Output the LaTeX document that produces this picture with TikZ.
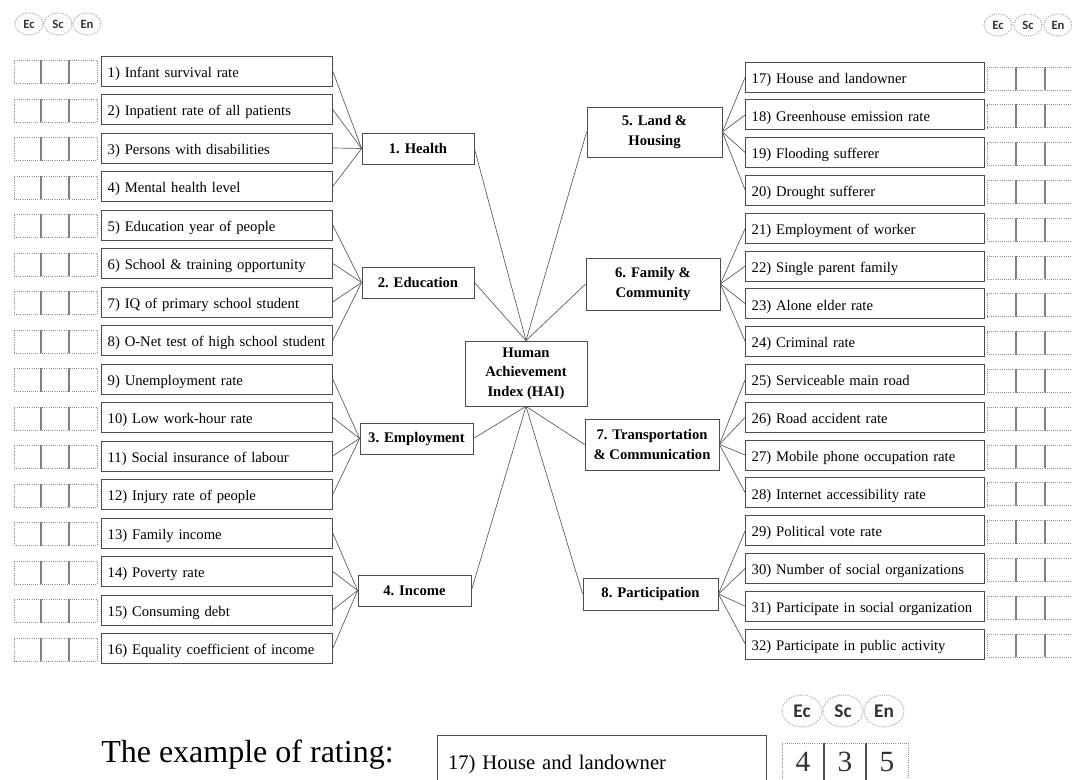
\documentclass[tikz,border=0pt]{standalone}
\usepackage{fontspec}
\setmainfont{Liberation Serif}
\newfontfamily\bubblefont{Carlito}
\usetikzlibrary{shapes.geometric}
\begin{document}
\begin{tikzpicture}[x=0.75pt,y=-0.75pt,
 itembox/.style={draw=black!70, line width=0.6pt, fill=white, minimum height=22.5pt, inner xsep=4.5pt, inner ysep=0pt, text height=10pt, text depth=0.4pt, align=left, font=\fontsize{11}{13}\selectfont},
 litem/.style={itembox, text width=164pt},
 ritem/.style={itembox, text width=170pt},
 catbox/.style={draw=black!70, line width=0.6pt, fill=white, inner sep=0pt, align=center, font=\fontsize{11}{14.5}\selectfont\bfseries},
 ratebox/.style={draw=black!45, densely dotted, line width=0.6pt, minimum height=17.25pt, inner sep=0pt},
 divider/.style={draw=black!50, line width=1.3pt},
 bubble/.style={ellipse, draw=black!40, densely dotted, line width=0.7pt, inner sep=0pt, text=black!80},
 smallbubble/.style={bubble, minimum width=21pt, minimum height=16.5pt, font=\bubblefont\bfseries\fontsize{9.5}{10}\selectfont},
 bigbubble/.style={bubble, minimum width=30pt, minimum height=24pt, font=\bubblefont\bfseries\fontsize{14.5}{15}\selectfont},
 link/.style={draw=black!65, line width=0.5pt}
]
\useasboundingbox (0,0) rectangle (1072,780);
\clip (0,0) rectangle (1072,780);

% header bubbles
\node[smallbubble] (bLEc) at (29,24) {Ec};
\node[smallbubble] (bLSc) at (58,24) {Sc};
\node[smallbubble] (bLEn) at (87,24) {En};
\node[smallbubble] (bREc) at (998,25) {Ec};
\node[smallbubble] (bRSc) at (1028,25) {Sc};
\node[smallbubble] (bREn) at (1058,25) {En};

% left items
\foreach \i/\t in {1/{Infant survival rate},2/{Inpatient rate of all patients},3/{Persons with disabilities},4/{Mental health level},5/{Education year of people},6/{School \& training opportunity},7/{IQ of primary school student},8/{O-Net test of high school student},9/{Unemployment rate},10/{Low work-hour rate},11/{Social insurance of labour},12/{Injury rate of people},13/{Family income},14/{Poverty rate},15/{Consuming debt},16/{Equality coefficient of income}}{
  \pgfmathsetmacro\yy{71+38.5*(\i-1)}
  \node[litem] (L\i) at (217,\yy) {\i) \t};
  \node[ratebox, minimum width=62.25pt] (RL\i) at (55.5,\yy+1) {};
  \draw[divider] ([xshift=20.75pt]RL\i.north west) -- ([xshift=20.75pt]RL\i.south west);
  \draw[divider] ([xshift=41.5pt]RL\i.north west) -- ([xshift=41.5pt]RL\i.south west);
}

% right items
\foreach \i/\t in {17/{House and landowner},18/{Greenhouse emission rate},19/{Flooding sufferer},20/{Drought sufferer},21/{Employment of worker},22/{Single parent family},23/{Alone elder rate},24/{Criminal rate},25/{Serviceable main road},26/{Road accident rate},27/{Mobile phone occupation rate},28/{Internet accessibility rate},29/{Political vote rate},30/{Number of social organizations},31/{Participate in social organization},32/{Participate in public activity}}{
  \pgfmathsetmacro\yy{77+37.8*(\i-17)}
  \node[ritem] (R\i) at (865,\yy) {\i) \t};
  \node[ratebox, minimum width=66pt] (RR\i) at (1031,\yy+1.5) {};
  \draw[divider] ([xshift=22pt]RR\i.north west) -- ([xshift=22pt]RR\i.south west);
  \draw[divider] ([xshift=44pt]RR\i.north west) -- ([xshift=44pt]RR\i.south west);
}

% categories
\node[catbox, minimum width=84pt, minimum height=23.25pt] (Health) at (418,148.5) {1. Health};
\node[catbox, minimum width=84pt, minimum height=23.25pt] (Edu) at (418,282.5) {2. Education};
\node[catbox, minimum width=84.75pt, minimum height=23.25pt] (Emp) at (416.5,438.5) {3. Employment};
\node[catbox, minimum width=84.75pt, minimum height=23.25pt] (Inc) at (414.5,590.5) {4. Income};
\node[catbox, minimum width=101.25pt, minimum height=37.5pt] (Land) at (654.5,132) {5. Land \&\\Housing};
\node[catbox, minimum width=100.5pt, minimum height=39pt] (Fam) at (653,284) {6. Family \&\\Community};
\node[catbox, minimum width=100.5pt, minimum height=38.25pt] (Trans) at (652,444.5) {7. Transportation\\\& Communication};
\node[catbox, minimum width=101.25pt, minimum height=24pt] (Part) at (650.5,594) {8. Participation};
\node[catbox, minimum width=91.5pt, minimum height=48.75pt] (HAI) at (526,373.5) {Human\\Achievement\\Index (HAI)};

% links HAI -> categories
\draw[link] (HAI.north) -- (Health.east);
\draw[link] (HAI.north) -- (Edu.east);
\draw[link] (HAI.north) -- (Land.west);
\draw[link] (HAI.north) -- (Fam.west);
\draw[link] (HAI.south) -- (Emp.east);
\draw[link] (HAI.south) -- (Inc.east);
\draw[link] (HAI.south) -- (Trans.west);
\draw[link] (HAI.south) -- (Part.west);

% links categories -> items
\foreach \i in {1,...,4} \draw[link] (Health.west) -- (L\i.east);
\foreach \i in {5,...,8} \draw[link] (Edu.west) -- (L\i.east);
\foreach \i in {9,...,12} \draw[link] (Emp.west) -- (L\i.east);
\foreach \i in {13,...,16} \draw[link] (Inc.west) -- (L\i.east);
\foreach \i in {17,...,20} \draw[link] (Land.east) -- (R\i.west);
\foreach \i in {21,...,24} \draw[link] (Fam.east) -- (R\i.west);
\foreach \i in {25,...,28} \draw[link] (Trans.east) -- (R\i.west);
\foreach \i in {29,...,32} \draw[link] (Part.east) -- (R\i.west);

% example of rating
\node[font=\fontsize{24}{24}\selectfont, anchor=base west, inner sep=0pt] (exlabel) at (101,762) {The example of rating:};
\node[draw=black!70, line width=0.6pt, minimum width=246.75pt, minimum height=45pt, inner xsep=8.25pt, inner ysep=0pt, text width=230.25pt, align=left, font=\fontsize{15.5}{17}\selectfont] (exbox) at (601.5,765) {17) House and landowner};
\node[bigbubble] (bEc) at (802,711) {Ec};
\node[bigbubble] (bSc) at (843,711) {Sc};
\node[bigbubble] (bEn) at (884,711) {En};
\node[draw=black!45, densely dotted, line width=0.6pt, minimum width=94.5pt, minimum height=37.5pt, inner sep=0pt] (exrate) at (845,768) {};
\draw[draw=black!70, line width=1.4pt] ([xshift=31.5pt]exrate.north west) -- ([xshift=31.5pt]exrate.south west);
\draw[draw=black!70, line width=1.4pt] ([xshift=63pt]exrate.north west) -- ([xshift=63pt]exrate.south west);
\node[font=\fontsize{22}{22}\selectfont, anchor=base, text=black!80] (d4) at (803,771) {4};
\node[font=\fontsize{22}{22}\selectfont, anchor=base, text=black!80] (d3) at (845,771) {3};
\node[font=\fontsize{22}{22}\selectfont, anchor=base, text=black!80] (d5) at (887,771) {5};
\end{tikzpicture}
\end{document}
